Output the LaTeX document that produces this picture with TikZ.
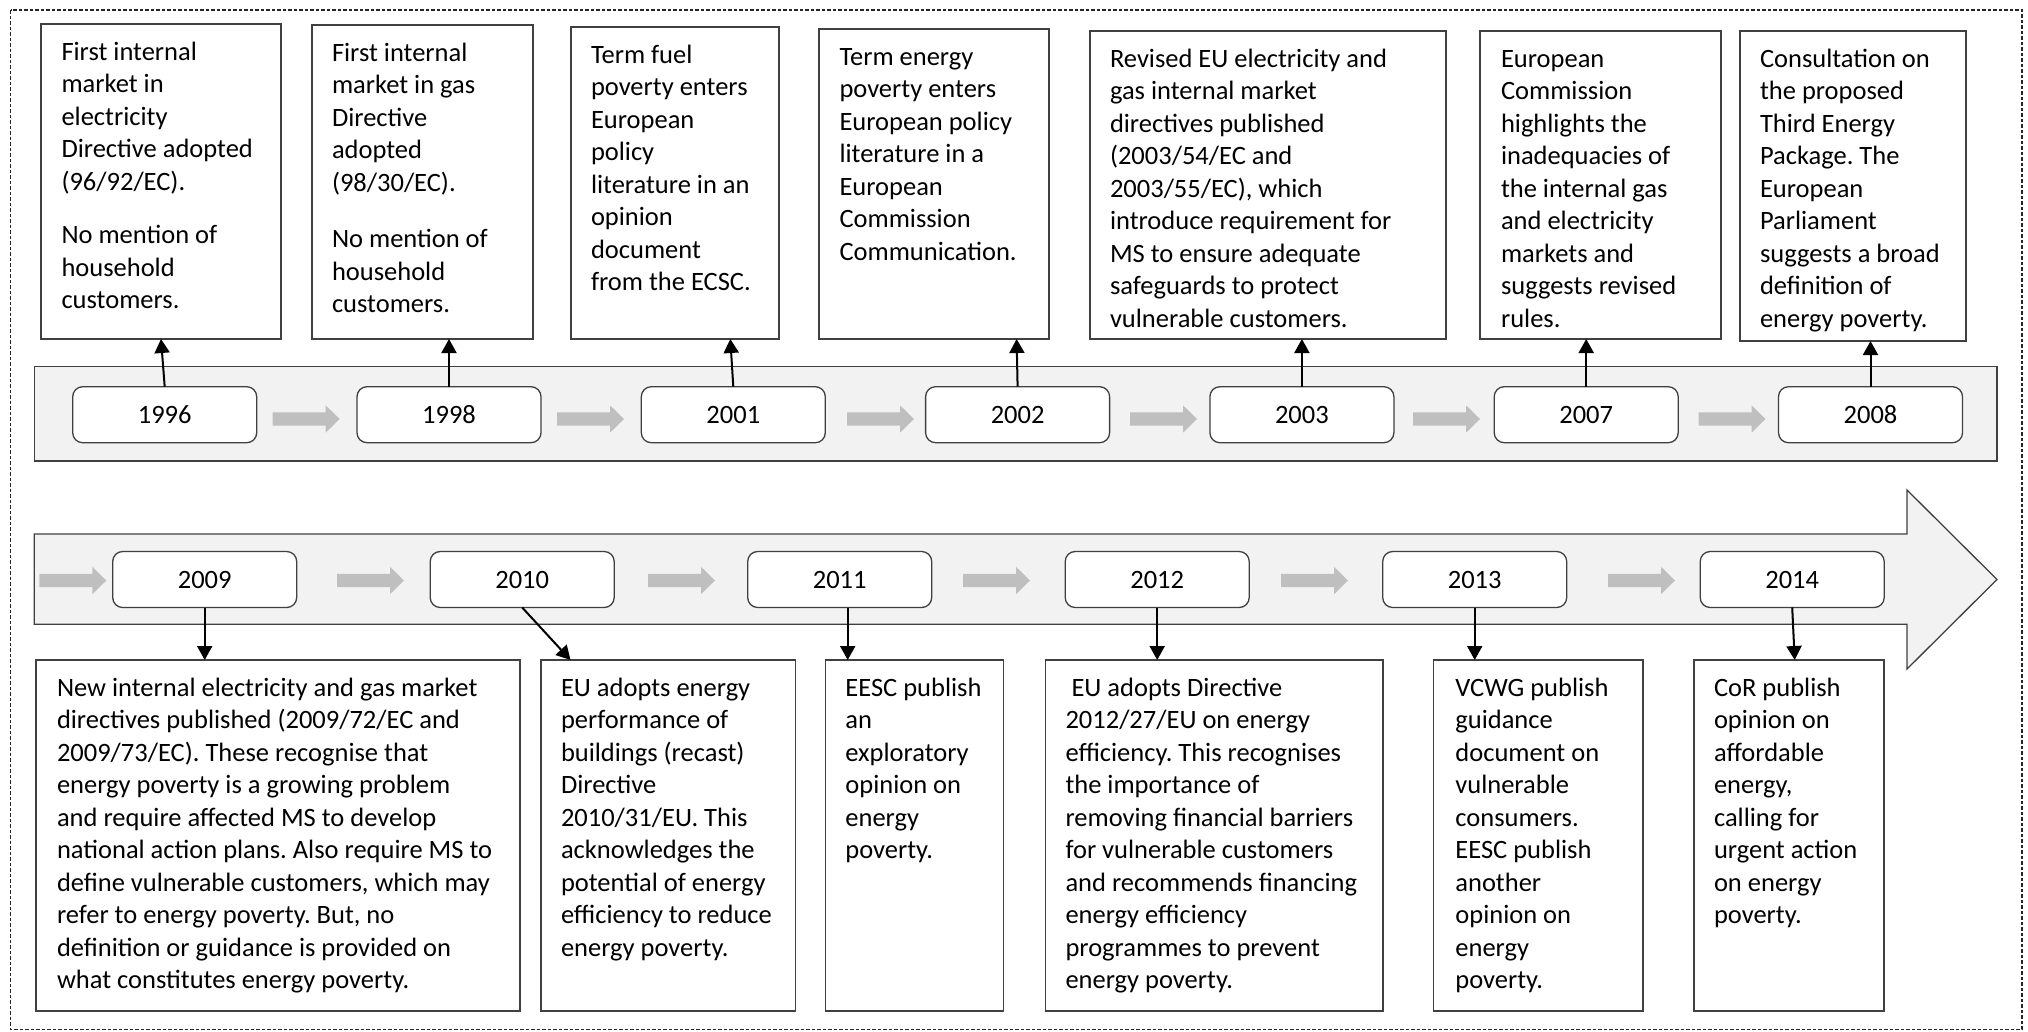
\documentclass[tikz,border=0pt]{standalone}
\usepackage{fontspec}
\setmainfont{Carlito}
\usetikzlibrary{arrows.meta}
\definecolor{bordergray}{HTML}{404040}
\definecolor{framegray}{HTML}{262626}
\definecolor{bandfill}{HTML}{F2F2F2}
\definecolor{arrowgray}{HTML}{BFBFBF}
\newcommand\firstlinestrut{\rule{0pt}{21.2pt}}
\frenchspacing
\begin{document}
\frenchspacing
\begin{tikzpicture}[x=1pt,y=-1pt,
  tbox/.style={draw=bordergray, line width=1.3pt, fill=white, inner sep=0pt, outer sep=0pt, anchor=north west},
  ttext/.style={inner sep=0pt, outer sep=0pt, anchor=north west, align=left, font=\fontsize{26.5}{32.5}\selectfont\frenchspacing},
  ybox/.style={draw=bordergray, line width=1.3pt, fill=white, rounded corners=10pt, minimum width=184pt, minimum height=56pt, inner sep=0pt, outer sep=0pt, font=\fontsize{26.5}{32.5}\selectfont},
  conn/.style={line width=2pt, -{Triangle[length=14pt,width=15pt]}},
  band/.style={draw=bordergray, line width=1.3pt, fill=bandfill},
  garrow/.pic={\fill[arrowgray] (0,-6.7) -- (53,-6.7) -- (53,-13.7) -- (67,0) -- (53,13.7) -- (53,6.7) -- (0,6.7) -- cycle;}
]
\useasboundingbox (0,0) rectangle (2028,1031);
\fill[white] (0,0) rectangle (2028,1031);
% outer dashed frame
\draw[framegray, line width=1.4pt, dash pattern=on 3.5pt off 2pt] (10.7,10) rectangle (2022,1029.5);

% top band
\draw[band] (34.3,366.7) rectangle (1997,461);
% bottom big arrow
\draw[band] (34.3,534) -- (1907,534) -- (1907,490) -- (1997,579.5) -- (1907,669) -- (1907,624.3) -- (34.3,624.3) -- cycle;

% small grey arrows, top row
\foreach \xx in {272.7,557,847,1130,1413,1698.5} \pic at (\xx,419) {garrow};
% small grey arrows, bottom row
\foreach \xx in {39.3,337,648,963,1281,1608} \pic at (\xx,580.5) {garrow};

% year boxes, top row
\node[ybox] (y1996) at (164.7,414.7) {1996};
\node[ybox] (y1998) at (449.0,414.7) {1998};
\node[ybox] (y2001) at (733.3,414.7) {2001};
\node[ybox] (y2002) at (1017.6,414.7) {2002};
\node[ybox] (y2003) at (1301.9,414.7) {2003};
\node[ybox] (y2007) at (1586.2,414.7) {2007};
\node[ybox] (y2008) at (1870.5,414.7) {2008};
% year boxes, bottom row
\node[ybox] (y2009) at (204.7,579.5) {2009};
\node[ybox] (y2010) at (522.2,579.5) {2010};
\node[ybox] (y2011) at (839.7,579.5) {2011};
\node[ybox] (y2012) at (1157.2,579.5) {2012};
\node[ybox] (y2013) at (1474.7,579.5) {2013};
\node[ybox] (y2014) at (1792.2,579.5) {2014};

% text boxes, top row
\node[tbox, minimum width=240pt, minimum height=315pt] (t1) at (41,24) {};
\node[tbox, minimum width=221pt, minimum height=314pt] (t2) at (312,25) {};
\node[tbox, minimum width=208pt, minimum height=312pt] (t3) at (571,27) {};
\node[tbox, minimum width=230pt, minimum height=310pt] (t4) at (819,29) {};
\node[tbox, minimum width=356pt, minimum height=308pt] (t5) at (1090,31) {};
\node[tbox, minimum width=241pt, minimum height=308pt] (t6) at (1480,31) {};
\node[tbox, minimum width=226pt, minimum height=310pt] (t7) at (1740,31) {};

\node[ttext] (t1x) at ([shift={(20.5,14.8)}]t1.north west) {\firstlinestrut First internal\\market in\\electricity\\Directive adopted\\(96/92/EC).\\[21pt]No mention of\\household\\customers.};
\node[ttext] (t2x) at ([shift={(20,14.8)}]t2.north west) {\firstlinestrut First internal\\market in gas\\Directive\\adopted\\(98/30/EC).\\[24pt]No mention of\\household\\customers.};
\node[ttext] (t3x) at ([shift={(20,14.8)}]t3.north west) {\firstlinestrut Term fuel\\poverty enters\\European\\policy\\literature in an\\opinion\\document\\from the ECSC.};
\node[ttext] (t4x) at ([shift={(20.5,14.8)}]t4.north west) {\firstlinestrut Term energy\\poverty enters\\European policy\\literature in a\\European\\Commission\\Communication.};
\node[ttext] (t5x) at ([shift={(20,14.8)}]t5.north west) {\firstlinestrut Revised EU electricity and\\gas internal market\\directives published\\(2003/54/EC and\\2003/55/EC), which\\introduce requirement for\\MS to ensure adequate\\safeguards to protect\\vulnerable customers.};
\node[ttext] (t6x) at ([shift={(21,14.8)}]t6.north west) {\firstlinestrut European\\Commission\\highlights the\\inadequacies of\\the internal gas\\and electricity\\markets and\\suggests revised\\rules.};
\node[ttext] (t7x) at ([shift={(20,14.8)}]t7.north west) {\firstlinestrut Consultation on\\the proposed\\Third Energy\\Package. The\\European\\Parliament\\suggests a broad\\definition of\\energy poverty.};

% text boxes, bottom row
\node[tbox, minimum width=484pt, minimum height=351pt] (b1) at (36,660) {};
\node[tbox, minimum width=254.5pt, minimum height=351pt] (b2) at (541,660) {};
\node[tbox, minimum width=178.2pt, minimum height=351pt] (b3) at (825.4,660) {};
\node[tbox, minimum width=337.5pt, minimum height=351pt] (b4) at (1045.5,660) {};
\node[tbox, minimum width=209.6pt, minimum height=351pt] (b5) at (1433.4,660) {};
\node[tbox, minimum width=190pt, minimum height=351pt] (b6) at (1694,660) {};

\node[ttext] (b1x) at ([shift={(21,14.8)}]b1.north west) {\firstlinestrut New internal electricity and gas market\\directives published (2009/72/EC and\\2009/73/EC). These recognise that\\energy poverty is a growing problem\\and require affected MS to develop\\national action plans. Also require MS to\\define vulnerable customers, which may\\refer to energy poverty. But, no\\definition or guidance is provided on\\what constitutes energy poverty.};
\node[ttext] (b2x) at ([shift={(20,14.8)}]b2.north west) {\firstlinestrut EU adopts energy\\performance of\\buildings (recast)\\Directive\\2010/31/EU. This\\acknowledges the\\potential of energy\\efficiency to reduce\\energy poverty.};
\node[ttext] (b3x) at ([shift={(20,14.8)}]b3.north west) {\firstlinestrut EESC publish\\an\\exploratory\\opinion on\\energy\\poverty.};
\node[ttext] (b4x) at ([shift={(20,14.8)}]b4.north west) {\firstlinestrut\hspace*{6pt}EU adopts Directive\\2012/27/EU on energy\\efficiency. This recognises\\the importance of\\removing financial barriers\\for vulnerable customers\\and recommends financing\\energy efficiency\\programmes to prevent\\energy poverty.};
\node[ttext] (b5x) at ([shift={(22,14.8)}]b5.north west) {\firstlinestrut VCWG publish\\guidance\\document on\\vulnerable\\consumers.\\EESC publish\\another\\opinion on\\energy\\poverty.};
\node[ttext] (b6x) at ([shift={(20,14.8)}]b6.north west) {\firstlinestrut CoR publish\\opinion on\\affordable\\energy,\\calling for\\urgent action\\on energy\\poverty.};

% connectors, top row (year -> event)
\draw[conn] (y1996.north) -- (t1.south);
\draw[conn] (y1998.north) -- (y1998.north |- t2.south);
\draw[conn] (y2001.north) -- ([xshift=-3pt]y2001.north |- t3.south);
\draw[conn] (y2002.north) -- ([xshift=-1pt]y2002.north |- t4.south);
\draw[conn] (y2003.north) -- (y2003.north |- t5.south);
\draw[conn] (y2007.north) -- (y2007.north |- t6.south);
\draw[conn] (y2008.north) -- (y2008.north |- t7.south);
% connectors, bottom row
\draw[conn] (y2009.south) -- (y2009.south |- b1.north);
\draw[conn] (y2010.south) -- ([xshift=29.5pt]b2.north west);
\draw[conn] ([xshift=8pt]y2011.south) -- ([xshift=8pt]y2011.south |- b3.north);
\draw[conn] (y2012.south) -- (y2012.south |- b4.north);
\draw[conn] (y2013.south) -- (y2013.south |- b5.north);
\draw[conn] (y2014.south) -- ([xshift=2.5pt]y2014.south |- b6.north);
\end{tikzpicture}
\end{document}
